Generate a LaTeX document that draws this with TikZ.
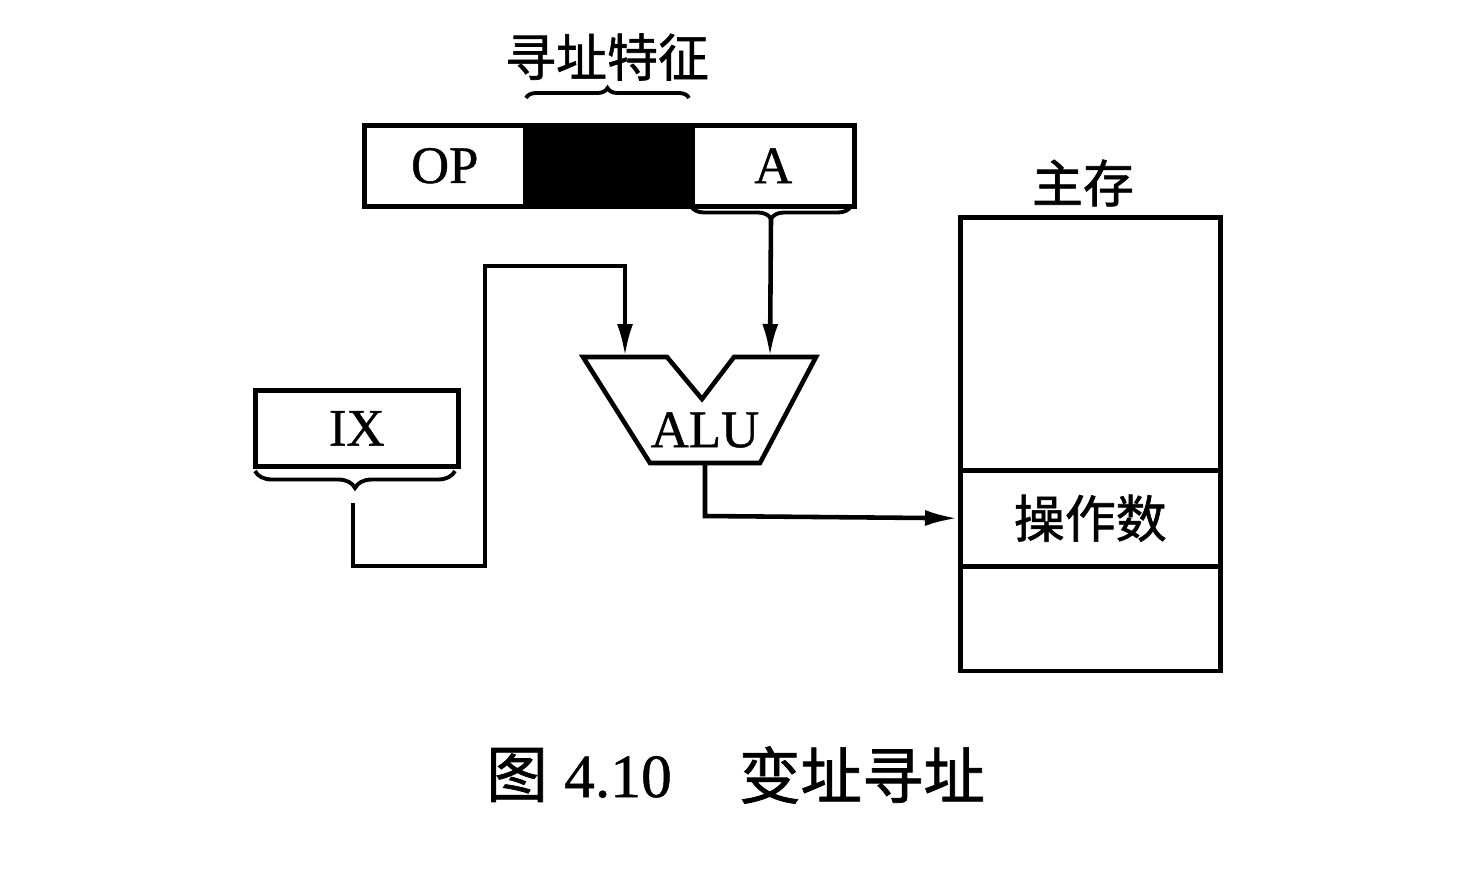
\documentclass[tikz,border=0pt]{standalone}
\usepackage{fontspec}
\setmainfont{Liberation Serif}[FakeBold=0.8]
\newfontfamily\cjk{Noto Sans CJK SC}[FakeBold=1.2]
\usetikzlibrary{arrows.meta,decorations.pathreplacing,calc}
\begin{document}
\begin{tikzpicture}[x=0.02cm,y=-0.02cm,line width=2.6pt,line join=miter,
  box/.style={draw,inner sep=0pt,anchor=north west},
  lat/.style={font=\fontsize{30}{36}\selectfont},
  cjklab/.style={font=\cjk\fontsize{29}{34}\selectfont},
  captxt/.style={font=\fontsize{35}{40}\selectfont},
  capcjk/.style={font=\cjk\fontsize{35}{40}\selectfont},
  bracedec/.style={line width=2.2pt,decorate,decoration={brace,amplitude=#1}},
  arr/.style={-{Latex[length=0.66cm,width=0.32cm]}}]
\useasboundingbox (0,0) rectangle (1484,876);
% instruction register
\node[box,lat,minimum width=3.22cm,minimum height=1.62cm] (op) at (362,123) {OP};
\node[box,fill=black,minimum width=3.34cm,minimum height=1.62cm] (feat) at (523,123) {};
\node[box,lat,minimum width=3.24cm,minimum height=1.62cm] (a) at (690,123) {A};
\node[cjklab] (featlab) at (607,57) {寻址特征};
\draw[bracedec=0.2cm] (526,98) -- (689,98);
% brace under A
\draw[bracedec=0.26cm] (851,206) -- (691,206);
\coordinate (atip) at (771,219);
% ALU
\coordinate (alu-in1) at (625,357);
\coordinate (alu-in2) at (770,357);
\coordinate (alu-out) at (705,463);
\draw (583,357) -- (667,357) -- (702,399) -- (734,357) -- (816,357) -- (760,463) -- (650,463) -- cycle;
\node[lat] (alu) at (705,430) {ALU};
\draw[arr] (atip) -- (alu-in2);
% IX
\node[box,lat,minimum width=4.06cm,minimum height=1.52cm] (ix) at (253,388) {IX};
\draw[bracedec=0.34cm] (455,471) -- (255,471);
\coordinate (ixtail) at (353,503);
\draw[arr] (ixtail) -- (353,566) -- (485,566) -- (485,266) -- (625,266) -- (alu-in1);
% memory
\node[box,minimum width=5.2cm,minimum height=9.08cm] (mem) at (958,215) {};
\node[box,minimum width=5.2cm,minimum height=1.92cm] (opnd) at (958,468) {};
\node[cjklab] (opndlab) at (opnd.center) {操作数};
\node[cjklab] (memlab) at (1083,183) {主存};
\draw[arr] (alu-out) -- (705,516) -- (opnd.west);
% caption
\node[capcjk] (c1) at (517,775) {图};
\node[captxt] (c2) at (618,777) {4.10};
\node[capcjk] (c3) at (862,775) {变址寻址};
\end{tikzpicture}
\end{document}
